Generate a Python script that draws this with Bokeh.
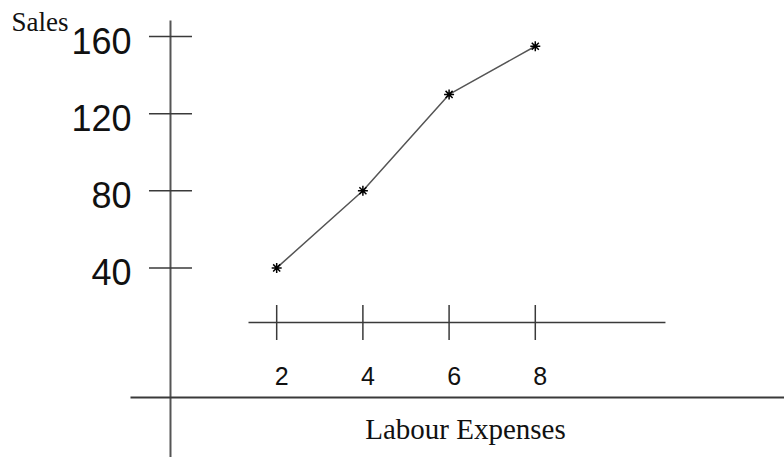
import math
from bokeh.plotting import figure
from bokeh.models import Range1d
from bokeh.core.properties import value
from bokeh.embed import file_html
from bokeh.resources import INLINE

# ---- data ----
labour = [2, 4, 6, 8]
sales = [40, 80, 130, 155]
x_ticks = [2, 4, 6, 8]
x_tick_labels = ["2", "4", "6", "8"]
y_ticks = [40, 80, 120, 160]
y_tick_labels = ["40", "80", "120", "160"]
x_title = "Labour Expenses"
y_title = "Sales"

# ---- layout (data-space positions of the hand-drawn axes) ----
Y_AXIS_X = -0.464
Y_AXIS_TOP = 168.35
Y_LABEL_X = -1.369
X_AXIS_Y = 11.67
X_AXIS_LEFT, X_AXIS_RIGHT = 1.346, 11.02
BASE_Y = -27.24
BASE_LEFT = -1.392
XR = (-4.408, 13.782)
YR = (-58.36, 178.73)

p = figure(width=784, height=457, x_range=Range1d(*XR), y_range=Range1d(*YR),
           x_axis_type=None, y_axis_type=None, toolbar_location=None,
           output_backend="svg", min_border=0)
p.outline_line_color = None
p.background_fill_color = "white"
p.border_fill_color = "white"

axis_color = "#3a3a3a"

# vertical (Sales) axis line
p.segment(x0=[Y_AXIS_X], y0=[YR[0]], x1=[Y_AXIS_X], y1=[Y_AXIS_TOP],
          line_color="#555555", line_width=2)
# y ticks
p.scatter(x=[Y_AXIS_X] * len(y_ticks), y=y_ticks, marker="dash", size=43,
          line_color=axis_color, line_width=1.5)
p.text(x=[Y_LABEL_X] * len(y_ticks), y=y_ticks, text=y_tick_labels,
       text_align="right", text_baseline="middle", y_offset=4,
       text_font=value("Liberation Sans"), text_font_size="36px", text_color="#111111")

# x tick line
p.segment(x0=[X_AXIS_LEFT], y0=[X_AXIS_Y], x1=[X_AXIS_RIGHT], y1=[X_AXIS_Y],
          line_color=axis_color, line_width=1.5)
p.scatter(x=x_ticks, y=[X_AXIS_Y] * len(x_ticks), marker="dash", angle=math.pi / 2,
          size=35, line_color=axis_color, line_width=1.5)
p.text(x=x_ticks, y=[X_AXIS_Y] * len(x_ticks), text=x_tick_labels,
       text_align="center", text_baseline="middle", x_offset=5, y_offset=53,
       text_font=value("Liberation Sans"), text_font_size="25px", text_color="#111111")

# baseline (horizontal axis)
p.segment(x0=[BASE_LEFT], y0=[BASE_Y], x1=[XR[1]], y1=[BASE_Y],
          line_color=axis_color, line_width=1.8)

# titles
p.text(x=[6.38], y=[BASE_Y], text=[x_title], text_align="center", text_baseline="top",
       y_offset=15, text_font=value("Liberation Serif"), text_font_size="29px",
       text_color="#111111")
p.text(x=[-4.153], y=[175.6], text=[y_title], text_align="left", text_baseline="top",
       text_font=value("Liberation Serif"), text_font_size="27px",
       text_color="#111111")

# data line with star markers
p.line(labour, sales, line_color="#555555", line_width=1.5)
p.scatter(labour, sales, marker="asterisk", size=10, line_color="black", line_width=1.5)

open("out.html", "w").write(file_html(p, INLINE))
